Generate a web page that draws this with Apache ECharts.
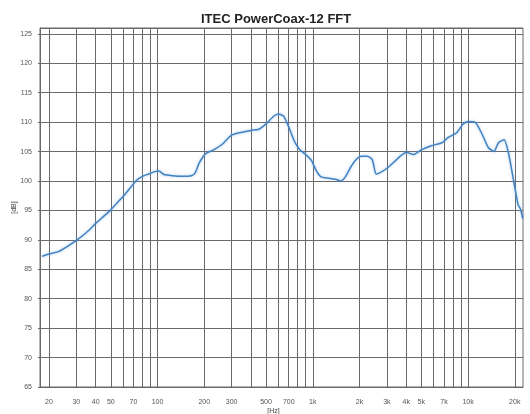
<!DOCTYPE html>
<html>
<head>
<meta charset="utf-8">
<script src="https://cdn.jsdelivr.net/npm/echarts@6/dist/echarts.min.js"></script>
<style>
  html, body { margin: 0; padding: 0; background: #fff; }
  #chart { width: 530px; height: 414px; }
</style>
</head>
<body>
<div id="chart"></div>
<script>
// measured response, frequency in Hz and level in dB
const freqs = [18, 20, 23, 26, 30, 35, 40, 45, 50, 55, 61, 67, 73, 80, 88, 96, 102, 110, 125, 145, 165, 175, 185, 195, 205, 230, 260, 300, 350, 400, 450, 500, 560, 600, 650, 700, 760, 820, 900, 980, 1050, 1130, 1250, 1400, 1520, 1620, 1750, 1900, 2050, 2250, 2420, 2550, 2650, 2950, 3300, 3650, 4000, 4450, 5000, 5800, 6800, 7450, 8450, 9300, 10000, 11100, 12200, 13500, 14700, 15700, 17100, 18200, 19600, 21000, 21800, 22500];
const levels = [87.2, 87.6, 88.0, 88.8, 89.9, 91.3, 92.8, 94.0, 95.1, 96.3, 97.6, 98.9, 100.1, 100.8, 101.2, 101.6, 101.7, 101.1, 100.9, 100.8, 100.9, 101.4, 103.0, 104.0, 104.7, 105.3, 106.2, 107.8, 108.3, 108.6, 108.8, 109.7, 111.0, 111.4, 111.0, 109.2, 106.8, 105.4, 104.5, 103.5, 101.8, 100.7, 100.5, 100.3, 100.0, 100.7, 102.3, 103.6, 104.2, 104.2, 103.6, 101.2, 101.3, 102.0, 103.1, 104.2, 104.9, 104.5, 105.3, 106.0, 106.5, 107.4, 108.2, 109.7, 110.1, 110.0, 108.2, 105.7, 105.0, 106.5, 107.0, 104.8, 100.3, 96.0, 95.2, 93.6];

// vertical grid lines of the log frequency axis and their labels
const gridFreqs = [20, 30, 40, 50, 60, 70, 80, 90, 100, 200, 300, 400, 500, 600, 700, 800, 900, 1000, 2000, 3000, 4000, 5000, 6000, 7000, 8000, 9000, 10000, 20000];
const gridLabels = ['20', '30', '40', '50', '', '70', '', '', '100', '200', '300', '', '500', '', '700', '', '', '1k', '2k', '3k', '4k', '5k', '', '7k', '', '', '10k', '20k'];

const gridColor = '#6a6a6a';
const font = 'Liberation Sans';

const chart = echarts.init(document.getElementById('chart'));

const option = {
    animation: false,
    title: {
        text: 'ITEC PowerCoax-12 FFT',
        left: 196,
        top: 8,
        textStyle: { fontFamily: font, fontSize: 13, fontWeight: 'bold', color: '#222' }
    },
    grid: {
        left: 40,
        right: 7,
        top: 28,
        bottom: 27,
        outerBoundsMode: 'none',
        show: true,
        borderColor: gridColor,
        borderWidth: 1
    },
    xAxis: {
        type: 'log',
        logBase: 10,
        min: 17.5,
        max: 22600,
        name: '[Hz]',
        nameLocation: 'middle',
        nameGap: 21,
        nameMoveOverlap: false,
        nameTextStyle: { fontFamily: font, fontSize: 7, color: '#444', padding: [0, 16, 0, 0] },
        axisLine: { show: true, lineStyle: { color: gridColor } },
        axisTick: { show: false },
        axisLabel: { show: false },
        splitLine: { show: false }
    },
    yAxis: {
        type: 'value',
        min: 65,
        max: 126,
        interval: 5,
        name: '[dB]',
        nameLocation: 'middle',
        nameGap: 22,
        nameMoveOverlap: false,
        nameTextStyle: { fontFamily: font, fontSize: 7, color: '#444' },
        axisLine: { show: true, lineStyle: { color: gridColor } },
        axisTick: { show: true, length: 2, lineStyle: { color: gridColor } },
        axisLabel: { fontFamily: font, fontSize: 7, color: '#555', margin: 8, showMaxLabel: false },
        splitLine: { show: true, lineStyle: { color: gridColor, width: 1 } }
    },
    series: [{
        type: 'line',
        data: freqs.map((f, i) => [f, levels[i]]),
        showSymbol: false,
        smooth: 0.2,
        z: 5,
        lineStyle: {
            color: '#4282c2',
            width: 1.5,
            shadowColor: 'rgba(110,165,225,0.6)',
            shadowBlur: 3
        },
        markLine: {
            silent: true,
            symbol: ['none', 'none'],
            z: 1,
            lineStyle: { color: gridColor, width: 1, type: 'solid' },
            label: {
                show: true,
                position: 'start',
                distance: 12,
                fontFamily: font,
                fontSize: 7,
                color: '#555',
                formatter: (p) => p.name
            },
            data: gridFreqs.map((f, i) => ({ xAxis: f, name: gridLabels[i] }))
        }
    }]
};

chart.setOption(option);
</script>
</body>
</html>
